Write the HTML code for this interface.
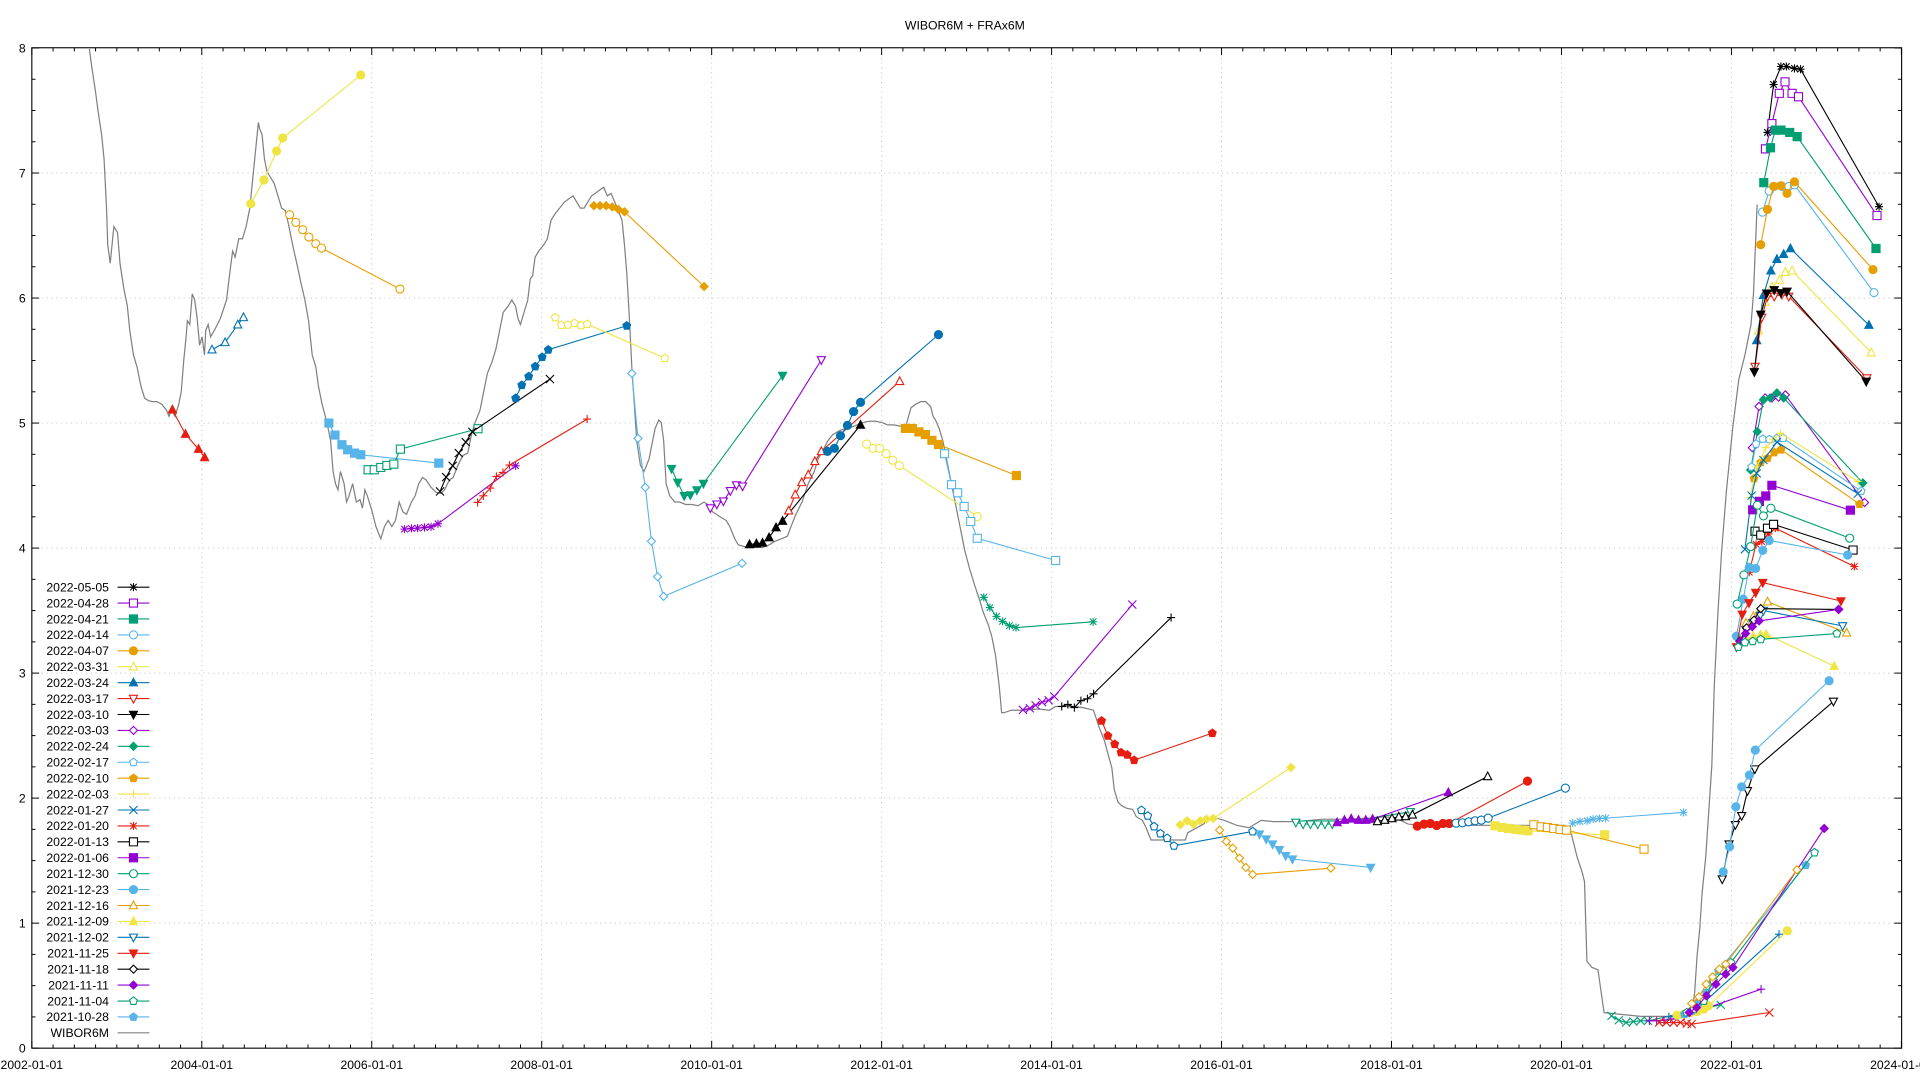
<!DOCTYPE html>
<html><head><meta charset="utf-8">
<style>
html,body{margin:0;padding:0;background:#fff;}
svg{display:block;}
text{font-family:"Liberation Sans",sans-serif;fill:#000;}
</style></head>
<body>
<svg id="c" width="1920" height="1080" viewBox="0 0 1568 882" xmlns="http://www.w3.org/2000/svg">
<rect x="0" y="0" width="1568" height="882" fill="#fff"/>
<text x="788" y="24" font-size="10" text-anchor="middle">WIBOR6M + FRAx6M</text>
<g id="grid"></g>
<g id="axes"></g>
<g id="data"></g>
<g id="legend"></g>
</svg>
<script>
var NS="http://www.w3.org/2000/svg";
function el(p,t,a,txt){var e=document.createElementNS(NS,t);for(var k in a)e.setAttribute(k,a[k]);if(txt!==undefined)e.textContent=txt;p.appendChild(e);return e;}
var L=26,R=1553,T=39,B=856;
function yv(v){return B-102.1*v;}
function xy(y){return L+69.4*(y-2002);}
var G=document.getElementById('grid'),A=document.getElementById('axes'),D=document.getElementById('data'),LG=document.getElementById('legend');
for(var v=1;v<8;v++){el(G,'line',{x1:L,x2:R,y1:yv(v),y2:yv(v),stroke:'#c8c8c8','stroke-width':0.8,'stroke-dasharray':'1,3'});}
for(var yr=2004;yr<2024;yr+=2){el(G,'line',{x1:xy(yr),x2:xy(yr),y1:T,y2:B,stroke:'#c8c8c8','stroke-width':0.8,'stroke-dasharray':'1,3'});}
el(A,'rect',{x:L,y:T,width:R-L,height:B-T,fill:'none',stroke:'#000','stroke-width':0.9});
for(var v=0;v<=8;v+=0.25){var y=yv(v),len=(v%1==0)?6:3;
 el(A,'line',{x1:L,x2:L+len,y1:y,y2:y,stroke:'#000','stroke-width':0.8});
 el(A,'line',{x1:R,x2:R-len,y1:y,y2:y,stroke:'#000','stroke-width':0.8});
 if(v%1==0)el(A,'text',{x:21,y:y+3.5,'font-size':10,'text-anchor':'end'},String(v));}
for(var q=0;q<=88;q++){var yr=2002+q/4,x=xy(yr),len=(q%8==0)?6:3;
 el(A,'line',{x1:x,x2:x,y1:B,y2:B-len,stroke:'#000','stroke-width':0.8});
 el(A,'line',{x1:x,x2:x,y1:T,y2:T+len,stroke:'#000','stroke-width':0.8});
 if(q%8==0)el(A,'text',{x:x,y:873,'font-size':10,'text-anchor':'middle'},(2002+q/4)+'-01-01');}
var C={k:'#000000',p:'#9400d3',g:'#009e73',lb:'#56b4e9',o:'#e69f00',y:'#f0e442',b:'#0072b2',r:'#e51e10'};
function mk(p,t,x,y,c){var s=3.3;
 function poly(pts,f){el(p,'polygon',{points:pts.map(function(a){return (x+a[0])+','+(y+a[1]);}).join(' '),stroke:c,'stroke-width':0.9,fill:f?c:'#fff'});}
 switch(t){
 case 'plus':el(p,'path',{d:'M'+(x-s)+' '+y+'h'+2*s+'M'+x+' '+(y-s)+'v'+2*s,stroke:c,'stroke-width':0.9});break;
 case 'x':el(p,'path',{d:'M'+(x-s)+' '+(y-s)+'l'+2*s+' '+2*s+'M'+(x-s)+' '+(y+s)+'l'+2*s+' '+(-2*s),stroke:c,'stroke-width':0.9});break;
 case 'ast':el(p,'path',{d:'M'+(x-s)+' '+y+'h'+2*s+'M'+x+' '+(y-s)+'v'+2*s+'M'+(x-s*.8)+' '+(y-s*.8)+'l'+1.6*s+' '+1.6*s+'M'+(x-s*.8)+' '+(y+s*.8)+'l'+1.6*s+' '+(-1.6*s),stroke:c,'stroke-width':0.9});break;
 case 'os':case 'fs':poly([[-s,-s],[s,-s],[s,s],[-s,s]],t=='fs');break;
 case 'oc':case 'fc':el(p,'circle',{cx:x,cy:y,r:s,stroke:c,'stroke-width':0.9,fill:t=='fc'?c:'#fff'});break;
 case 'ot':case 'ft':poly([[0,-s*1.1],[s,s*0.8],[-s,s*0.8]],t=='ft');break;
 case 'odt':case 'fdt':poly([[0,s*1.1],[s,-s*0.8],[-s,-s*0.8]],t=='fdt');break;
 case 'od':case 'fd':poly([[0,-s],[s,0],[0,s],[-s,0]],t=='fd');break;
 case 'op':case 'fp':poly([[0,-s],[s*.95,-s*.3],[s*.6,s*.85],[-s*.6,s*.85],[-s*.95,-s*.3]],t=='fp');break;
 }}
function tf(z,pts){return pts.map(function(p){var zx=p[0],zy=p[1];
 if(z==4)return [164.8+(zx-420)*0.3337,141.3+(zy-400)*0.2723];
 if(z==5)return [580.1+(zx-172)*0.3333,141.3+(zy-60)*0.3127];
 if(z==6)return [997.6+(zx-247)*0.3966,651.8+(zy-352)*0.2723];
 if(z==7)return [1414+(zx-85)*0.2752,141.3+(zy-323)*0.3129];
 return p;});}
function series(c,t,pts){var g=el(D,'g',{});
 el(g,'polyline',{points:pts.map(function(p){return p[0]+','+p[1];}).join(' '),fill:'none',stroke:c,'stroke-width':0.9});
 pts.forEach(function(p){mk(g,t,p[0],p[1],c);});}
var W=[[73,40],[75,55],[78,75],[80,90],[83,110],[85,130],[87,170],[88,200],[90,215],[93,185],[96,190],[98,215],[101,235],[104,250],[106,270],[109,290],[112,300],[115,315],[118,325],[121,327],[124,328],[128,328],[132,330],[136,335],[138,340],[140,335],[143,340],[146,330],[148,320],[150,295],[152,275],[153,262],[155,265],[157,240],[159,245],[161,260],[163,282],[165,275],[167,290],[168,270],[170,265],[172,275],[176,268],[180,260],[185,245],[188,220],[190,205],[192,210],[195,195],[198,195],[201,185],[204,170],[207,140],[209,120],[211,100],[212,105],[214,110],[216,130],[218,140],[221,145],[224,150],[227,160],[230,170],[233,172],[236,185],[239,200],[243,218],[246,232],[249,245],[252,262],[255,290],[258,300],[260,315],[263,330],[267,345],[270,360],[272,385],[274,395],[276,400],[278,385],[281,395],[283,410],[285,405],[288,395],[291,410],[294,408],[296,415],[298,400],[300,405],[304,418],[307,430],[311,440],[314,430],[317,425],[320,430],[323,425],[326,410],[329,418],[332,420],[336,410],[339,405],[342,395],[345,390],[348,392],[352,398],[356,402],[360,403],[363,400],[367,392],[370,390],[374,380],[378,372],[382,370],[385,355],[388,345],[392,335],[395,320],[398,305],[402,295],[405,285],[408,270],[411,255],[415,250],[418,245],[421,250],[423,260],[425,265],[428,255],[431,245],[433,228],[435,225],[437,210],[440,205],[444,200],[447,195],[450,180],[453,175],[457,170],[461,165],[465,162],[468,160],[471,165],[474,170],[477,170],[480,165],[483,160],[486,158],[490,155],[493,153],[496,160],[499,158],[502,165],[505,172],[508,180],[510,200],[512,225],[514,260],[516,300],[518,330],[520,360],[523,380],[526,385],[530,375],[532,365],[535,350],[538,343],[540,345],[542,360],[544,395],[547,405],[551,410],[555,410],[560,412],[565,412],[570,413],[575,410],[578,412],[582,418],[588,422],[593,425],[596,430],[600,440],[603,445],[610,447],[618,447],[623,447],[628,445],[633,442],[638,440],[643,438],[646,430],[650,420],[655,410],[660,395],[665,385],[668,375],[672,368],[676,360],[680,355],[685,352],[690,350],[695,349],[700,347],[705,345],[710,344],[715,344],[720,345],[725,347],[730,347],[735,348],[740,347],[742,340],[744,333],[748,330],[752,328],[756,328],[760,332],[762,340],[764,343],[767,350],[770,360],[773,375],[776,390],[779,405],[782,420],[785,435],[788,450],[792,465],[796,478],[800,490],[803,500],[807,510],[810,520],[813,535],[816,560],[818,582],[820,582],[826,580],[835,580],[848,579],[857,580],[862,577],[878,577],[885,578],[893,580],[898,595],[902,605],[906,620],[908,627],[910,645],[913,655],[916,658],[920,660],[925,661],[928,667],[933,670],[936,676],[940,686],[950,686],[962,686],[968,686],[970,680],[983,673],[985,670],[993,668],[1000,670],[1010,674],[1020,676],[1030,670],[1040,671],[1060,671],[1080,669],[1100,669],[1120,668],[1130,667],[1140,668],[1150,673],[1160,674],[1180,674],[1200,674],[1220,674],[1240,674],[1260,674],[1278,674],[1283,680],[1288,700],[1292,712],[1294,720],[1296,785],[1300,790],[1305,792],[1310,827],[1320,828],[1340,830],[1360,830],[1378,830],[1382,827],[1384,810],[1386,780],[1388,760],[1390,730],[1393,700],[1395,670],[1398,625],[1400,560],[1403,500],[1406,450],[1410,400],[1415,350],[1420,310],[1425,290],[1430,265],[1432,240],[1435,167]];
el(D,'polyline',{points:W.map(function(p){return p[0]+','+p[1];}).join(' '),fill:'none',stroke:'#808080','stroke-width':1});
var S=[
[4,'r','ft',[[348,1110],[380,1183],[412,1228],[427,1253]]],
[4,'b','ot',[[445,930],[477,908],[508,855],[522,833]]],
[4,'y','fc',[[540,492],[572,421],[603,334],[618,295],[809,106]]],
[4,'o','oc',[[635,525],[650,548],[667,570],[682,592],[699,612],[713,625],[905,748]]],
[4,'lb','fs',[[731,1150],[746,1186],[763,1215],[777,1230],[794,1240],[809,1245],[1000,1270]]],
[4,'g','os',[[827,1290],[842,1290],[858,1283],[873,1277],[890,1273],[906,1228],[1096,1167]]],
[4,'k','x',[[1003,1355],[1018,1312],[1034,1278],[1049,1240],[1066,1207],[1082,1176],[1272,1018]]],
[4,'p','ast',[[916,1468],[933,1466],[948,1465],[965,1463],[981,1461],[998,1452],[1188,1278]]],
[4,'r','plus',[[1095,1388],[1109,1368],[1126,1345],[1141,1310],[1157,1298],[1173,1276],[1363,1138]]],
[4,'b','fp',[[1188,1075],[1203,1036],[1220,1010],[1236,980],[1253,952],[1268,930],[1460,858]]],
[4,'y','op',[[1285,833],[1300,856],[1316,855],[1332,850],[1348,857],[1363,853],[1553,955]]],
[0,'o','fd',[[485,168],[490,168],[495,168],[500,169],[505,171],[510,173],[575,234]]],
[0,'lb','od',[[516,305],[521,358],[527,398],[532,442],[537,471],[542,487],[606,460]]],
[5,'g','fdt',[[77,832],[92,868],[108,903],[123,901],[139,888],[155,871],[349,589]]],
[5,'p','odt',[[172,935],[188,925],[204,917],[221,890],[236,875],[251,878],[444,548]]],
[5,'k','ft',[[268,1030],[285,1028],[300,1026],[316,1012],[333,986],[349,969],[540,718]]],
[5,'r','ot',[[364,942],[380,900],[396,868],[412,848],[428,813],[444,787],[636,604]]],
[5,'b','fc',[[459,787],[476,779],[491,746],[508,719],[523,683],[540,659],[731,482]]],
[5,'y','oc',[[555,768],[571,779],[587,779],[603,793],[619,810],[635,824],[826,957]]],
[5,'o','fs',[[650,727],[667,727],[683,736],[699,743],[715,758],[731,769],[922,850]]],
[5,'lb','os',[[746,793],[763,874],[778,895],[794,931],[810,970],[826,1014],[1018,1072]]],
[5,'g','ast',[[842,1168],[857,1195],[873,1218],[888,1231],[905,1242],[921,1247],[1110,1232]]],
[5,'p','x',[[938,1462],[955,1458],[969,1450],[985,1442],[1001,1437],[1015,1427],[1206,1187]]],
[5,'k','plus',[[1033,1453],[1048,1448],[1064,1456],[1080,1438],[1096,1433],[1111,1420],[1301,1221]]],
[6,'r','fp',[[0,120],[13,165],[27,190],[40,215],[53,222],[67,238],[228,157]]],
[6,'b','op',[[82,388],[95,405],[108,437],[121,458],[135,472],[149,495],[311,452]]],
[6,'y','fd',[[162,432],[176,420],[189,430],[203,420],[216,415],[230,413],[390,260]]],
[6,'o','od',[[243,448],[257,482],[270,502],[284,532],[297,560],[311,581],[472,562]]],
[6,'lb','fdt',[[325,460],[339,475],[352,490],[366,507],[379,525],[393,535],[554,560]]],
[6,'g','odt',[[400,425],[415,430],[430,430],[445,430],[460,430],[475,430],[636,393]]],
[6,'p','ft',[[485,425],[500,418],[514,414],[529,418],[544,418],[558,415],[714,335]]],
[6,'k','ot',[[568,422],[583,418],[598,413],[612,408],[626,407],[640,402],[795,287]]],
[6,'r','fc',[[650,436],[664,430],[677,428],[690,434],[703,428],[716,428],[877,301]]],
[6,'b','oc',[[730,427],[743,426],[756,423],[769,420],[782,418],[796,412],[955,322]]],
[6,'y','fs',[[810,435],[825,440],[838,443],[853,446],[866,448],[878,450],[1036,462]]],
[6,'o','os',[[890,432],[905,438],[918,440],[931,443],[944,446],[957,448],[1117,505]]],
[6,'lb','ast',[[970,427],[985,422],[1000,420],[1012,415],[1025,413],[1038,412],[1198,395]]],
[6,'g','x',[[1050,1005],[1065,1018],[1080,1025],[1095,1022],[1110,1020],[1125,1020],[1275,972]]],
[6,'p','plus',[[1128,1020],[1143,1020],[1158,1018],[1172,1015],[1187,1010],[1200,1005],[1358,925]]],
[6,'r','x',[[1148,1025],[1163,1025],[1178,1025],[1192,1025],[1205,1028],[1215,1030],[1375,995]]],
[6,'b','plus',[[1168,1008],[1182,1005],[1198,1000],[1212,990],[1227,978],[1240,965],[1395,760]]],
[6,'y','fc',[[1185,1003],[1199,1000],[1213,995],[1226,992],[1240,985],[1250,975],[1412,750]]],
[6,'lb','fp',[[1200,1000],[1215,990],[1230,965],[1245,935],[1258,905],[1270,870],[1450,553]]],
[6,'g','op',[[1205,995],[1220,985],[1240,960],[1260,900],[1280,870],[1296,845],[1468,515]]],
[6,'p','fd',[[1210,995],[1225,980],[1245,945],[1265,910],[1285,880],[1300,860],[1488,443]]],
[6,'o','od',[[1215,968],[1230,948],[1245,910],[1258,888],[1272,865],[1285,850],[1432,567]]],
[6,'k','odt',[[1278,595],[1292,490],[1305,432],[1318,405],[1330,330],[1345,265],[1507,62]]],
[6,'lb','fc',[[1280,573],[1293,498],[1306,378],[1318,318],[1334,283],[1346,208],[1498,0]]],
[7,'k','ast',[[192,217],[210,92],[232,45],[248,45],[272,50],[290,52],[523,411]]],
[7,'p','os',[[186,260],[205,194],[227,115],[244,85],[265,115],[284,124],[517,434]]],
[7,'g','fs',[[181,348],[201,257],[215,211],[232,211],[258,217],[280,228],[514,520]]],
[7,'lb','oc',[[177,425],[197,370],[212,358],[235,358],[255,358],[272,354],[508,635]]],
[7,'o','fc',[[172,510],[192,418],[210,358],[232,356],[250,376],[272,346],[505,575]]],
[7,'y','ot',[[165,735],[185,660],[205,620],[228,602],[245,582],[265,578],[500,792]]],
[7,'b','ft',[[160,760],[180,642],[202,578],[220,548],[240,535],[260,520],[493,720]]],
[7,'r','odt',[[155,828],[175,700],[192,645],[212,645],[235,640],[255,645],[487,858]]],
[7,'k','fdt',[[153,842],[172,692],[190,637],[212,628],[232,636],[250,632],[485,867]]],
[7,'p','od',[[147,1040],[167,932],[185,910],[205,910],[225,908],[245,902],[480,1183]]],
[7,'g','fd',[[142,1098],[162,998],[180,915],[200,910],[220,897],[240,910],[475,1132]]],
[7,'lb','op',[[145,1090],[158,1030],[178,1017],[198,1018],[220,1015],[238,1015],[470,1153]]],
[7,'o','fp',[[152,1120],[172,1078],[192,1067],[212,1052],[232,1045],[465,1187]]],
[7,'y','plus',[[140,1170],[160,1090],[187,1040],[210,1018],[230,1002],[460,1128]]],
[7,'b','x',[[125,1305],[145,1165],[160,1107],[180,1072],[220,1025],[460,1160]]],
[7,'r','ast',[[138,1365],[158,1292],[175,1285],[195,1265],[215,1250],[450,1350]]],
[7,'k','os',[[155,1258],[172,1268],[192,1250],[210,1240],[446,1307]]],
[7,'p','fs',[[148,1202],[168,1180],[187,1166],[205,1138],[438,1203]]],
[7,'g','oc',[[102,1448],[122,1372],[142,1298],[162,1190],[180,1218],[202,1198],[436,1276]]],
[7,'lb','fc',[[100,1532],[120,1435],[138,1352],[157,1355],[178,1308],[197,1282],[430,1320]]],
[7,'o','ot',[[128,1497],[150,1480],[172,1460],[192,1442],[427,1523]]],
[7,'y','ft',[[130,1540],[150,1532],[172,1528],[188,1527],[390,1610]]],
[7,'b','odt',[[128,1515],[148,1497],[170,1478],[180,1465],[415,1505]]],
[7,'r','fdt',[[100,1560],[117,1475],[137,1445],[157,1418],[178,1392],[410,1440]]],
[7,'k','od',[[110,1545],[130,1510],[152,1490],[172,1460],[403,1462]]],
[7,'p','fd',[[112,1545],[127,1525],[147,1507],[167,1492],[403,1462]]],
[7,'g','op',[[105,1560],[125,1548],[148,1545],[172,1540],[398,1525]]]
];
S.forEach(function(s){series(C[s[1]],s[2],tf(s[0],s[3]));});
var LEG=[['2022-05-05','k','ast'],['2022-04-28','p','os'],['2022-04-21','g','fs'],['2022-04-14','lb','oc'],['2022-04-07','o','fc'],['2022-03-31','y','ot'],['2022-03-24','b','ft'],['2022-03-17','r','odt'],['2022-03-10','k','fdt'],['2022-03-03','p','od'],['2022-02-24','g','fd'],['2022-02-17','lb','op'],['2022-02-10','o','fp'],['2022-02-03','y','plus'],['2022-01-27','b','x'],['2022-01-20','r','ast'],['2022-01-13','k','os'],['2022-01-06','p','fs'],['2021-12-30','g','oc'],['2021-12-23','lb','fc'],['2021-12-16','o','ot'],['2021-12-09','y','ft'],['2021-12-02','b','odt'],['2021-11-25','r','fdt'],['2021-11-18','k','od'],['2021-11-11','p','fd'],['2021-11-04','g','op'],['2021-10-28','lb','fp'],['WIBOR6M','gray','']];
LEG.forEach(function(l,i){var y=479.5+i*13.0;var c=l[1]=='gray'?'#808080':C[l[1]];
 el(LG,'text',{x:89,y:y+3.5,'font-size':10,'text-anchor':'end'},l[0]);
 el(LG,'line',{x1:96,x2:122,y1:y,y2:y,stroke:c,'stroke-width':0.9});
 if(l[2])mk(LG,l[2],109,y,c);});
</script>
</body></html>
